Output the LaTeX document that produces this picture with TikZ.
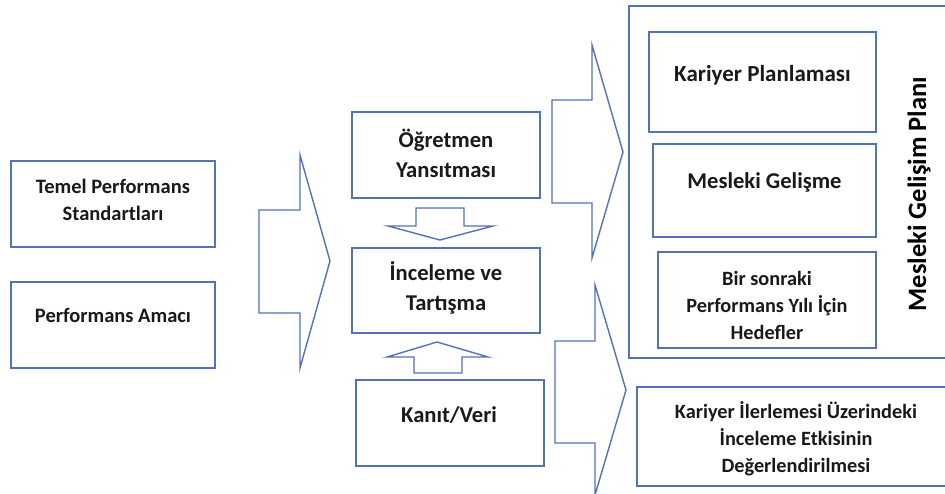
\documentclass[tikz,border=0pt]{standalone}
\usepackage{fontspec}
\setmainfont{Carlito}
\definecolor{boxblue}{RGB}{84,114,186}
\begin{document}
\begin{tikzpicture}[x=1pt,y=-1pt,
  box/.style={draw=boxblue, line width=1.4pt, inner sep=0pt},
  lbl/.style={align=center, inner sep=0pt, text=black!90,
    font=\bfseries\fontsize{20.5}{27}\selectfont},
  small/.style={font=\bfseries\fontsize{20.3}{26.8}\selectfont},
  big/.style={font=\bfseries\fontsize{22.6}{30}\selectfont},
  blockarrow/.style={draw=boxblue, line width=1.4pt, line join=miter, fill=white}]
\useasboundingbox (0,0) rectangle (945,493);
\clip (0,0) rectangle (945,493);

% left column
\node[box, minimum width=204pt, minimum height=86pt] (std) at (113,204) {};
\node[lbl] (stdtext) at (113,199.5) {Temel Performans\\Standartları};
\node[box, minimum width=204pt, minimum height=86pt] (goal) at (113,325) {};
\node[lbl] (goaltext) at (113,315) {Performans Amacı};

% first block arrow
\draw[blockarrow] (259,210) -- (300,210) -- (300,155) -- (330,261) -- (300,368) -- (300,313) -- (259,313) -- cycle;

% middle column
\node[box, minimum width=188pt, minimum height=86pt] (refl) at (446,155) {};
\node[lbl, big] (refltext) at (446,153) {Öğretmen\\Yansıtması};
\node[box, minimum width=188pt, minimum height=85pt] (rev) at (446,290.5) {};
\node[lbl, big] (revtext) at (446,287.7) {İnceleme ve\\Tartışma};
\node[box, minimum width=188pt, minimum height=86pt] (evid) at (450,423) {};
\node[lbl, big] (evidtext) at (449,415) {Kanıt/Veri};

% small arrows into the review box
\draw[blockarrow] (416,208) -- (464,208) -- (464,226) -- (493,226) -- (440,240) -- (388,226) -- (416,226) -- cycle;
\draw[blockarrow] (414,373) -- (462,373) -- (462,357) -- (488,357) -- (437,342) -- (387,357) -- (414,357) -- cycle;

% right block arrows
\draw[blockarrow] (552,100) -- (592,100) -- (592,45) -- (623,152) -- (592,258) -- (592,203) -- (552,203) -- cycle;
\draw[blockarrow] (555,341) -- (595,341) -- (595,285) -- (626,390) -- (595,495) -- (595,443) -- (555,443) -- cycle;

% development plan frame
\node[box, minimum width=330pt, minimum height=352pt] (plan) at (794,182) {};
\node[box, minimum width=227pt, minimum height=100pt] (career) at (762.5,82) {};
\node[lbl, font=\bfseries\fontsize{23}{30}\selectfont] (careertext) at (762.5,75) {Kariyer Planlaması};
\node[box, minimum width=223pt, minimum height=93pt] (prof) at (764.5,190.5) {};
\node[lbl, big] (proftext) at (764.5,182) {Mesleki Gelişme};
\node[box, minimum width=218pt, minimum height=96pt] (targets) at (767,300) {};
\node[lbl, small, font=\bfseries\fontsize{20.3}{27}\selectfont] (targetstext) at (767,305) {Bir sonraki\\Performans Yılı İçin\\Hedefler};
\node[font=\bfseries\fontsize{26.5}{30}\selectfont, rotate=90, text=black, inner sep=0pt] (plantitle) at (919,194) {Mesleki Gelişim Planı};

% impact box
\node[box, minimum width=318pt, minimum height=99pt] (impact) at (796,436.5) {};
\node[lbl, small] (impacttext) at (796,439) {Kariyer İlerlemesi Üzerindeki\\İnceleme Etkisinin\\Değerlendirilmesi};
\end{tikzpicture}
\end{document}
